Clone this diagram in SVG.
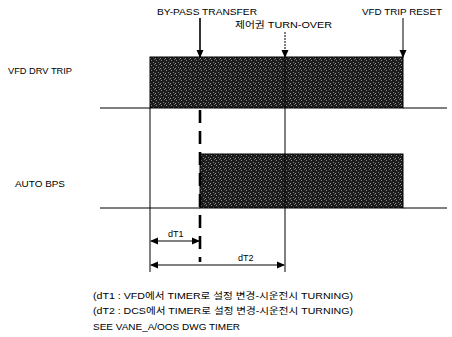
<svg xmlns="http://www.w3.org/2000/svg" width="452" height="337" viewBox="0 0 452 337">
<style>
text{font-family:"Liberation Sans","Noto Sans CJK KR",sans-serif;font-size:9px;fill:#000}
.ln{stroke:#000;stroke-width:1;fill:none}
.bold{stroke:#000;stroke-width:1.6;fill:none}
.box{fill:url(#stip);stroke:#000;stroke-width:1}
</style>
<defs>
<pattern id="stip" width="5" height="5" patternUnits="userSpaceOnUse">
<rect width="5" height="5" fill="#1c1c1c"/>
<rect x="1" y="0" width="1" height="1" fill="#8a8a8a"/>
<rect x="3" y="2" width="1" height="1" fill="#7a7a7a"/>
<rect x="0" y="3" width="1" height="1" fill="#999"/>
<rect x="4" y="4" width="1" height="1" fill="#6a6a6a"/>
</pattern>
<marker id="ah" markerWidth="8" markerHeight="8" refX="7" refY="4" orient="auto" markerUnits="userSpaceOnUse">
<path d="M0,0.5 L8,4 L0,7.5 Z" fill="#000"/>
</marker>
<marker id="as" markerWidth="8" markerHeight="8" refX="1" refY="4" orient="auto" markerUnits="userSpaceOnUse">
<path d="M8,0.5 L0,4 L8,7.5 Z" fill="#000"/>
</marker>
</defs>

<g id="signal-vfd-drv-trip">
<text x="8" y="74" textLength="64" lengthAdjust="spacingAndGlyphs">VFD DRV TRIP</text>
<path class="ln" d="M100,108 H150 M403,108 H447"/>
<rect class="box" x="150" y="57" width="253" height="51"/>
</g>

<g id="signal-auto-bps">
<text x="15" y="187" textLength="50" lengthAdjust="spacingAndGlyphs">AUTO BPS</text>
<path class="ln" d="M100,208 H200 M403,208 H447"/>
<rect class="box" x="200" y="154" width="203" height="54"/>
</g>

<g id="event-bypass-transfer">
<text x="157" y="15" textLength="100" lengthAdjust="spacingAndGlyphs">BY-PASS TRANSFER</text>
</g>
<g id="event-turn-over">
<text x="235" y="28" textLength="97" lengthAdjust="spacingAndGlyphs">제어권 TURN-OVER</text>
</g>
<g id="event-vfd-trip-reset">
<text x="362" y="15" textLength="80" lengthAdjust="spacingAndGlyphs">VFD TRIP RESET</text>
</g>

<g id="connectors">
<line class="bold" x1="200" y1="18" x2="200" y2="57" marker-end="url(#ah)"/>
<line class="ln" x1="285" y1="32" x2="285" y2="57" stroke-dasharray="2 1" marker-end="url(#ah)"/>
<line class="ln" x1="403" y1="18" x2="403" y2="57" marker-end="url(#ah)"/>
<line class="ln" x1="150" y1="108" x2="150" y2="272"/>
<line class="ln" x1="285" y1="57" x2="285" y2="272"/>
<line x1="200" y1="110" x2="200" y2="262" stroke="#000" stroke-width="2.6" stroke-dasharray="13 8"/>
<line class="ln" x1="151" y1="241" x2="199" y2="241" marker-start="url(#as)" marker-end="url(#ah)"/>
<line class="ln" x1="151" y1="265" x2="284" y2="265" marker-start="url(#as)" marker-end="url(#ah)"/>
</g>

<g id="labels">
<text x="168" y="237">dT1</text>
<text x="238" y="261">dT2</text>
<text x="93" y="299" textLength="260" lengthAdjust="spacingAndGlyphs">(dT1 : VFD에서 TIMER로 설정 변경-시운전시 TURNING)</text>
<text x="93" y="314" textLength="260" lengthAdjust="spacingAndGlyphs">(dT2 : DCS에서 TIMER로 설정 변경-시운전시 TURNING)</text>
<text x="93" y="330" textLength="147" lengthAdjust="spacingAndGlyphs">SEE VANE_A/OOS DWG TIMER</text>
</g>
</svg>
